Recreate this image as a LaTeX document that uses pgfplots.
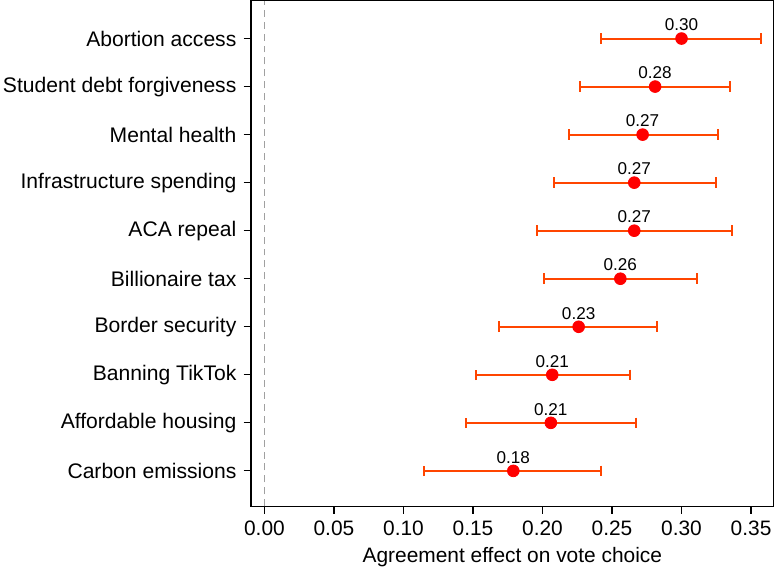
\documentclass[border=0pt]{standalone}
\usepackage{pgfplots}
\pgfplotsset{compat=1.18}
\usepackage{pgfplotstable}
\usepackage{fontspec}
\setmainfont{Liberation Sans}
\definecolor{barc}{RGB}{255,69,0}
\definecolor{ptc}{RGB}{255,0,0}
\definecolor{dashc}{RGB}{160,160,160}
\pgfplotstableread{
y x em ep
10 0.300 0.058 0.057
9 0.281 0.054 0.054
8 0.272 0.053 0.054
7 0.266 0.058 0.059
6 0.266 0.070 0.070
5 0.256 0.055 0.055
4 0.226 0.057 0.056
3 0.207 0.055 0.056
2 0.206 0.061 0.061
1 0.179 0.064 0.063
}\data
\begin{document}
\begin{tikzpicture}
\begin{axis}[
  scale only axis, width=262.5pt, height=254pt,
  xmin=-0.0096, xmax=0.3662, ymin=0.263, ymax=10.787,
  xtick={0,0.05,0.10,0.15,0.20,0.25,0.30,0.35},
  xticklabel style={font=\fontsize{10.5}{12}\selectfont, /pgf/number format/.cd, fixed, fixed zerofill, precision=2},
  /pgf/number format/assume math mode=true,
  ytick={1,...,10},
  yticklabels={Carbon emissions, Affordable housing, Banning TikTok, Border security, Billionaire tax, ACA repeal, Infrastructure spending, Mental health, Student debt forgiveness, Abortion access},
  tick align=outside, tick pos=left,
  major tick length=3.7pt,
  tick style={black, line width=0.6pt},
  axis line style={line width=0.75pt},
  yticklabel style={font=\fontsize{10.6}{12}\selectfont, inner xsep=1.5pt, xshift=-2pt},
  label style={font=\fontsize{10.5}{12}\selectfont},
  xlabel={Agreement effect on vote choice},
  xlabel style={yshift=1pt},
  clip=false,
]
\addplot[dashc, dash pattern=on 3.5pt off 2.5pt, line width=0.65pt] coordinates {(0,0.263) (0,10.787)};
\addplot[only marks, mark=*, mark size=2.95pt, mark options={fill=ptc, draw=ptc},
  point meta=x,
  nodes near coords={\pgfmathprintnumber[fixed, fixed zerofill, precision=2]{\pgfplotspointmeta}},
  nodes near coords style={anchor=south, inner sep=0pt, yshift=3.6pt, font=\fontsize{8.6}{10}\selectfont, text=black},
  error bars/.cd, x dir=both, x explicit,
  error bar style={barc, line width=1pt},
  error mark=|,
  error mark options={barc, line width=1pt, mark size=2.65pt}]
  table[x=x, y=y, x error plus=ep, x error minus=em] {\data};
\end{axis}
\end{tikzpicture}
\end{document}
